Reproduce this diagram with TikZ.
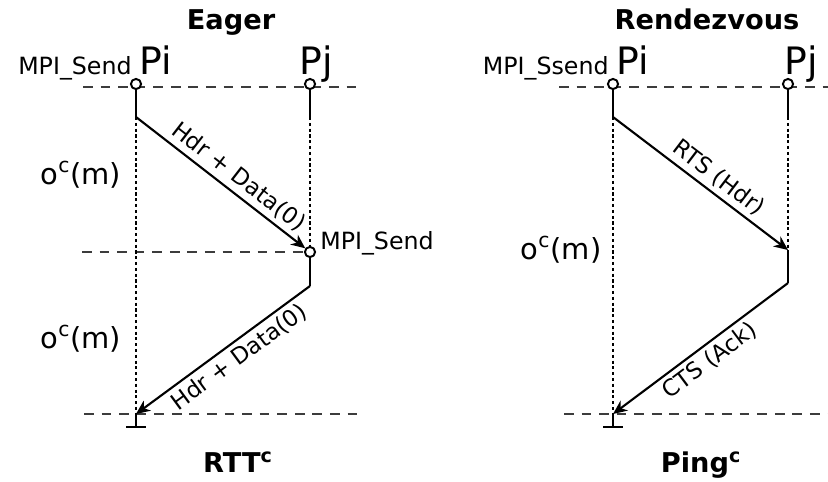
\documentclass[tikz,border=0pt]{standalone}
\usepackage{fontspec}
\setmainfont{DejaVu Sans}
\usetikzlibrary{arrows.meta,positioning}
\definecolor{GuideGray}{RGB}{60,60,60}
\tikzset{
  procdot/.style={circle,draw,fill=white,line width=1.1pt,inner sep=0pt,minimum size=5.8pt},
  proclabel/.style={inner sep=0pt,font=\fontsize{21.5}{23}\selectfont},
  calllabel/.style={inner sep=0pt,font=\fontsize{13.5}{15}\selectfont},
  costlabel/.style={inner sep=0pt,font=\fontsize{16.5}{18}\selectfont},
  titlelabel/.style={inner sep=0pt,font=\fontsize{15.5}{17}\selectfont\bfseries},
  msglabel/.style={inner sep=2.5pt,font=\fontsize{13}{14}\selectfont},
  lifeline/.style={line width=1.4pt},
  waitline/.style={line width=1.4pt,dash pattern=on 1.8pt off 1.5pt},
  guideline/.style={line width=0.8pt,draw=GuideGray,dash pattern=on 5.5pt off 4.5pt},
  msgarrow/.style={-{Stealth[length=8pt,width=7pt,inset=2.5pt]},line width=1.2pt},
  endline/.style={-{Bar[width=11pt,line width=1.4pt]},line width=1.4pt}
}

\begin{document}
\begin{tikzpicture}[x=0.02cm,y=-0.02cm]
\useasboundingbox (0,0) rectangle (828,481);

% eager protocol
\draw[guideline] (83,87) -- (364,87);
\draw[guideline] (84,414) -- (359,414);
\node[procdot] (li) at (136,84) {};
\node[procdot] (lj) at (310,84) {};
\coordinate (lis) at (136,117);
\coordinate (ljw) at (310,117);
\coordinate (lie) at (136,414);
\coordinate (lit) at (136,428);
\coordinate (ljs) at (310,286);
\node[procdot] (ljr) at (310,252) {};
\draw[guideline] (82,252) -- (ljr.west);
\draw[lifeline] (li) -- (lis);
\draw[lifeline] (lj) -- (ljw);
\draw[waitline] (lis) -- (lie);
\draw[waitline] (ljw) -- (ljr);
\draw[msgarrow] (lis) -- node[msglabel,above,sloped,pos=.55] {Hdr + Data(0)} (ljr);
\draw[lifeline] (ljr) -- (ljs);
\draw[msgarrow] (ljs) -- node[msglabel,below,sloped,pos=.46] {Hdr + Data(0)} (lie);
\draw[endline] (lie) -- (lit);
\node[titlelabel,anchor=base] (eager) at (231,29) {Eager};
\node[proclabel,anchor=base west] (lpi) at (139,74) {Pi};
\node[proclabel,anchor=base west] (lpj) at (299,74) {Pj};
\node[calllabel,base left=4pt of lpi] (lsend) {MPI\_Send};
\node[calllabel,anchor=base west] (lrecv) at (320,249) {MPI\_Send};
\node[costlabel,anchor=base] (lo1) at (81,184) {o\textsuperscript{c}(m)};
\node[costlabel,anchor=base] (lo2) at (81,348) {o\textsuperscript{c}(m)};
\node[titlelabel,anchor=base] (rtt) at (238,472) {RTT\textsuperscript{c}};

% rendezvous protocol
\draw[guideline] (559,87) -- (828,87);
\draw[guideline] (564,414) -- (828,414);
\node[procdot] (ri) at (613,84) {};
\node[procdot] (rj) at (788,84) {};
\coordinate (ris) at (613,117);
\coordinate (rjw) at (788,117);
\coordinate (rie) at (613,414);
\coordinate (rit) at (613,428);
\coordinate (rjr) at (788,250);
\coordinate (rjs) at (788,283);
\draw[lifeline] (ri) -- (ris);
\draw[lifeline] (rj) -- (rjw);
\draw[waitline] (ris) -- (rie);
\draw[waitline] (rjw) -- (rjr);
\draw[msgarrow] (ris) -- node[msglabel,above,sloped,pos=.55] {RTS (Hdr)} (rjr);
\draw[lifeline] (rjr) -- (rjs);
\draw[msgarrow] (rjs) -- node[msglabel,below,sloped,pos=.5] {CTS (Ack)} (rie);
\draw[endline] (rie) -- (rit);
\node[titlelabel,anchor=base] (rdv) at (707,29) {Rendezvous};
\node[proclabel,anchor=base west] (rpi) at (616,74) {Pi};
\node[proclabel,anchor=base west] (rpj) at (784,74) {Pj};
\node[calllabel,base left=4pt of rpi] (rsend) {MPI\_Ssend};
\node[costlabel,anchor=base] (ro) at (561,259) {o\textsuperscript{c}(m)};
\node[titlelabel,anchor=base] (ping) at (701,472) {Ping\textsuperscript{c}};
\end{tikzpicture}
\end{document}
